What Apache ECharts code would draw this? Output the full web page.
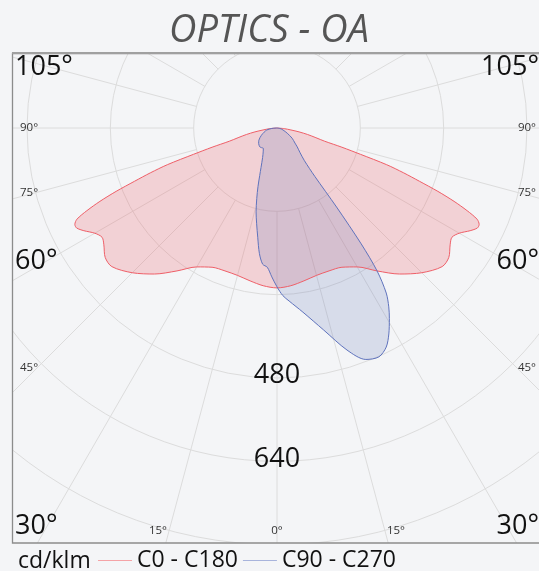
<!DOCTYPE html>
<html>
<head>
<meta charset="utf-8">
<script src="https://cdn.jsdelivr.net/npm/echarts@6/dist/echarts.min.js"></script>
<style>
  html, body { margin: 0; padding: 0; background: #f4f5f7; }
  #main { width: 539px; height: 571px; }
</style>
</head>
<body>
<div id="main"></div>
<script>
// gamma angle (deg from nadir) and intensity (cd/klm)
const redGamma = [0, 5, 10, 15, 20, 25, 30, 35, 40, 45, 50, 53, 56, 58, 60, 62, 63.5, 64.5, 65.5, 66.5, 67.5, 68.5, 69.5, 70.5, 71.5, 72.5, 73.5, 74.5, 76, 78, 80, 82, 85, 90]
const redCd = [307, 304, 298, 293, 292, 295, 308, 335, 366, 393, 414, 413, 401, 396, 404, 420, 430, 430, 422, 398, 368, 332, 292, 258, 222, 168, 130, 95, 77, 60, 43, 27, 14, 0]

const blueGammaC270 = [0, 2, 4, 6, 8, 10, 12, 14, 16, 18, 20, 22, 26, 30, 34, 38, 42, 50, 56, 65, 72, 79, 85, 90]
const blueCdC270 = [305, 286, 268, 263, 243, 213, 188, 166, 141, 118, 97, 82, 63, 53, 47, 48, 49, 46, 42, 33, 26, 20, 10, 0]

const blueGammaC90 = [0, 2, 4, 8, 13, 17.5, 21, 24, 26.5, 28.5, 30.5, 32, 33.5, 35, 36, 37, 38, 40, 43, 47, 50, 56, 63, 72, 80, 90]
const blueCdC90 = [305, 322, 333, 357, 398, 447, 476, 481, 470, 450, 425, 405, 380, 335, 275, 190, 118, 82, 65, 53, 45, 35, 22, 12, 6, 0]

const seriesNames = ['C0 - C180', 'C90 - C270']
const unitLabel = 'cd/klm'
const titleText = 'OPTICS - OA'
const ringLabels = ['480', '640']
const bigAngleLabels = ['105°', '60°', '30°']
const smallAngleLabels = ['90°', '75°', '45°']
const bottomAngleLabels = ['15°', '0°', '15°']

// left half goes clockwise from nadir, right half is 360 - gamma
function toPolar(leftG, leftCd, rightG, rightCd) {
  const pts = []
  for (let i = leftG.length - 1; i >= 0; i--) pts.push([leftCd[i], leftG[i]])
  for (let i = 1; i < rightG.length; i++) pts.push([rightCd[i], 360 - rightG[i]])
  return pts
}

const bg = '#f4f5f7'
const cx = 277, cy = 128
const font = '"Open Sans", "DejaVu Sans", sans-serif'

const myChart = echarts.init(document.getElementById('main'))

const texts = []
const addText = (text, x, y, size, align, color, extra) => {
  texts.push({
    type: 'text', x: x, y: y, z: 60,
    style: Object.assign({
      text: text, fontSize: size, fontFamily: font, fill: color || '#111',
      align: align, textAlign: align, verticalAlign: 'middle', textVerticalAlign: 'middle'
    }, extra || {})
  })
}
addText(titleText, 269, 31, 38, 'center', '#555', { fontStyle: 'italic' })
// big angle labels at left/right edges
const bigY = [67, 261, 526]
bigAngleLabels.forEach((t, i) => {
  addText(t, 15, bigY[i], 27, 'left')
  addText(t, 539, bigY[i], 27, 'right')
})
const smallY = [128, 193, 368]
smallAngleLabels.forEach((t, i) => {
  addText(t, 20, smallY[i], 11.5, 'left', '#333')
  addText(t, 536, smallY[i], 11.5, 'right', '#333')
})
const bottomX = [158, 277, 396]
bottomAngleLabels.forEach((t, i) => addText(t, bottomX[i], 531, 11.5, 'center', '#333'))
const ringY = [375, 459]
ringLabels.forEach((t, i) => addText(t, cx, ringY[i], 27, 'center'))
addText(unitLabel, 18, 561, 23, 'left')

myChart.setOption({
  backgroundColor: bg,
  animation: false,
  polar: [
    { center: [cx, cy], radius: 500 },
    { center: [cx, cy], radius: [83.3, 620] }
  ],
  angleAxis: [
    {
      polarIndex: 0, type: 'value', min: 0, max: 360, startAngle: 270,
      axisLine: { show: false }, axisTick: { show: false }, axisLabel: { show: false },
      splitLine: { show: false }
    },
    {
      polarIndex: 1, type: 'value', min: 0, max: 360, interval: 15, startAngle: 270,
      axisLine: { show: false }, axisTick: { show: false }, axisLabel: { show: false },
      splitLine: { show: true, lineStyle: { color: '#dcdcdc', width: 1 } }
    }
  ],
  radiusAxis: [
    {
      polarIndex: 0, type: 'value', min: 0, max: 960, interval: 160,
      axisLine: { show: false }, axisTick: { show: false }, axisLabel: { show: false },
      splitLine: { show: true, lineStyle: { color: '#dcdcdc', width: 1 } }
    },
    { polarIndex: 1, type: 'value', min: 0, max: 1, show: false }
  ],
  legend: {
    left: 98, top: 549, z: 100, padding: 0,
    itemWidth: 34, itemHeight: 1, itemGap: 5, icon: 'rect',
    textStyle: { fontSize: 23, fontFamily: font, color: '#111' },
    data: [
      { name: seriesNames[0], itemStyle: { color: '#f4a3a6' } },
      { name: seriesNames[1], itemStyle: { color: '#a8b4dc' } }
    ]
  },
  series: [
    {
      name: seriesNames[0], type: 'line', coordinateSystem: 'polar', polarIndex: 0,
      symbol: 'none', smooth: 0.3, color: '#ef5f68',
      lineStyle: { color: '#ef5f68', width: 1 },
      areaStyle: { color: 'rgba(236,92,100,0.33)' },
      data: toPolar(redGamma, redCd, redGamma, redCd)
    },
    {
      name: seriesNames[1], type: 'line', coordinateSystem: 'polar', polarIndex: 0,
      symbol: 'none', smooth: 0.3, color: '#5f73bd',
      lineStyle: { color: '#5f73bd', width: 1 },
      areaStyle: { color: 'rgba(95,115,185,0.28)' },
      data: toPolar(blueGammaC270, blueCdC270, blueGammaC90, blueCdC90)
    }
  ],
  graphic: [
    // hide grid outside the frame
    { type: 'rect', z: 50, shape: { x: 0, y: 0, width: 539, height: 53 }, style: { fill: bg } },
    { type: 'rect', z: 50, shape: { x: 0, y: 0, width: 12, height: 571 }, style: { fill: bg } },
    { type: 'rect', z: 50, shape: { x: 0, y: 543, width: 539, height: 28 }, style: { fill: bg } },
    { type: 'rect', z: 55, shape: { x: 12.5, y: 53.5, width: 540, height: 489.5 }, style: { fill: 'none', stroke: '#8c8c8c', lineWidth: 1.3 } },
    { type: 'line', z: 55, shape: { x1: 12, y1: 53, x2: 539, y2: 53 }, style: { stroke: '#a0a0a0', lineWidth: 2 } }
  ].concat(texts)
})
</script>
</body>
</html>
